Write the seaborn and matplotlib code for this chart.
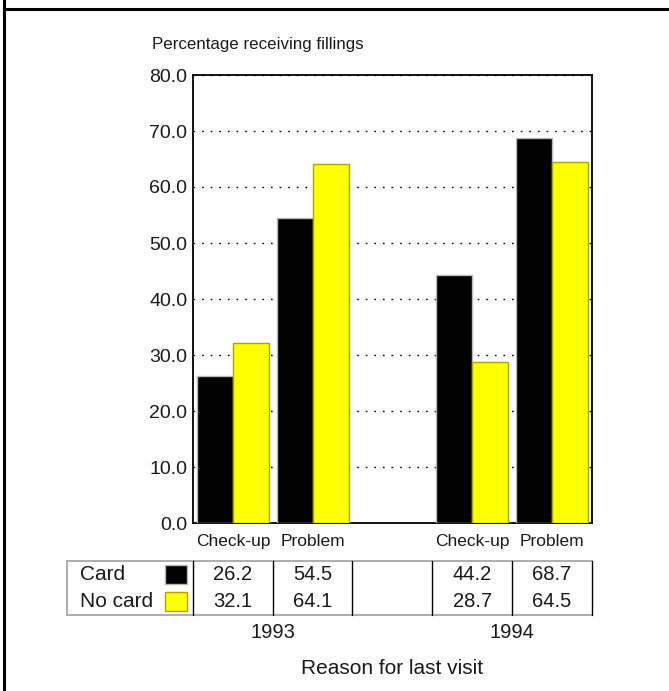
import numpy as np
import pandas as pd
import matplotlib
matplotlib.use("Agg")
import matplotlib.pyplot as plt
from matplotlib.lines import Line2D
from matplotlib.patches import Rectangle
import seaborn as sns

sns.set_style("white")
plt.rcParams['font.family'] = ['Liberation Sans', 'DejaVu Sans']

# data
years = ['1993', '1993', '1994', '1994']
reasons = ['Check-up', 'Problem', 'Check-up', 'Problem']
card = [26.2, 54.5, 44.2, 68.7]
no_card = [32.1, 64.1, 28.7, 64.5]
groups = ['Card', 'No card']
colors = {'Card': '#000000', 'No card': '#ffff00'}
edges = {'Card': '#b8b8b8', 'No card': '#a8a800'}

keys = [y + ' ' + r for y, r in zip(years, reasons)]
slots = keys[:2] + ['gap'] + keys[2:]
slot_labels = reasons[:2] + [''] + reasons[2:]

df = pd.DataFrame({
    'slot': keys * 2,
    'group': ['Card'] * 4 + ['No card'] * 4,
    'value': card + no_card,
})

txt = '#1a1a1a'
fig = plt.figure(figsize=(6.69, 6.91), dpi=100)
ax = fig.add_axes([193 / 669, 1 - 523 / 691, 399 / 669, 448 / 691])

sns.barplot(data=df, x='slot', y='value', hue='group', order=slots,
            hue_order=groups, palette=colors, width=0.9, errorbar=None,
            saturation=1, legend=False, ax=ax, zorder=3)

# bar edges
for cont, g in zip(ax.containers, groups):
    for p in cont:
        p.set_edgecolor(edges[g])
        p.set_linewidth(1.0)

ax.set_xlim(-0.5, 4.5)
ax.set_ylim(0, 80)
ax.set_yticks(np.arange(0, 81, 10))
ax.set_yticklabels([f"{v:.1f}" for v in np.arange(0, 81, 10)])
ax.set_xticks(range(len(slots)))
ax.set_xticklabels(slot_labels)
ax.tick_params(axis='y', length=0, pad=4, labelsize=14, labelcolor=txt)
ax.tick_params(axis='x', length=0, pad=8, labelsize=12.5, labelcolor=txt)
ax.set_xlabel('')
ax.set_ylabel('')
ax.yaxis.grid(True, color='black', linestyle=(0, (1.2, 5)), linewidth=1.0)
ax.xaxis.grid(False)
ax.set_axisbelow(True)
for s in ax.spines.values():
    s.set_visible(True)
    s.set_color('black')
    s.set_linewidth(1.3)

fig.text(152 / 669, 1 - 45 / 691, 'Percentage receiving fillings',
         fontsize=12.2, color=txt, ha='left', va='center')

# data table under the chart
tax = fig.add_axes([67 / 669, 1 - 615 / 691, 525 / 669, 54 / 691])
x0 = -0.5 - 126 / 80
tax.set_xlim(x0, 4.5)
tax.set_ylim(0, 2)
tax.axis('off')
tax.plot([x0, 4.5], [2, 2], color='#a0a0a0', lw=1.2, clip_on=False)
tax.plot([x0, 4.5], [0, 0], color='#a0a0a0', lw=1.2, clip_on=False)
tax.plot([x0, x0], [0, 2], color='#a0a0a0', lw=1.2, clip_on=False)
for xv in np.arange(-0.5, 4.6, 1.0):
    tax.plot([xv, xv], [0, 2], color='black', lw=1.0, clip_on=False)

rows = [('Card', card, 1.5), ('No card', no_card, 0.5)]
for name, vals, yc in rows:
    tax.text(x0 + 13 / 80, yc, name, fontsize=15, color=txt,
             ha='left', va='center')
    tax.add_patch(Rectangle((-0.5 - 28 / 80, yc - 0.36), 22 / 80, 0.72,
                            facecolor=colors[name], edgecolor=edges[name],
                            lw=1.0))
    for xi, v in zip([0, 1, 3, 4], vals):
        tax.text(xi, yc, f"{v:.1f}", fontsize=14.5, color=txt,
                 ha='center', va='center')

# year labels and axis title
for xi, yr in zip([0.5, 3.5], ['1993', '1994']):
    ax.text(xi, -(633 - 523) / 448, yr, transform=ax.get_xaxis_transform(),
            fontsize=14.5, color=txt, ha='center', va='center')
fig.text(392 / 669, 1 - 668 / 691, 'Reason for last visit', fontsize=15,
         color=txt, ha='center', va='center')

# outer frame
fig.add_artist(Line2D([4 / 669, 4 / 669], [0, 1], color='black', lw=2.2))
fig.add_artist(Line2D([4 / 669, 1], [1 - 9 / 691, 1 - 9 / 691],
                      color='black', lw=2.2))

fig.savefig('out.png', dpi=100)
